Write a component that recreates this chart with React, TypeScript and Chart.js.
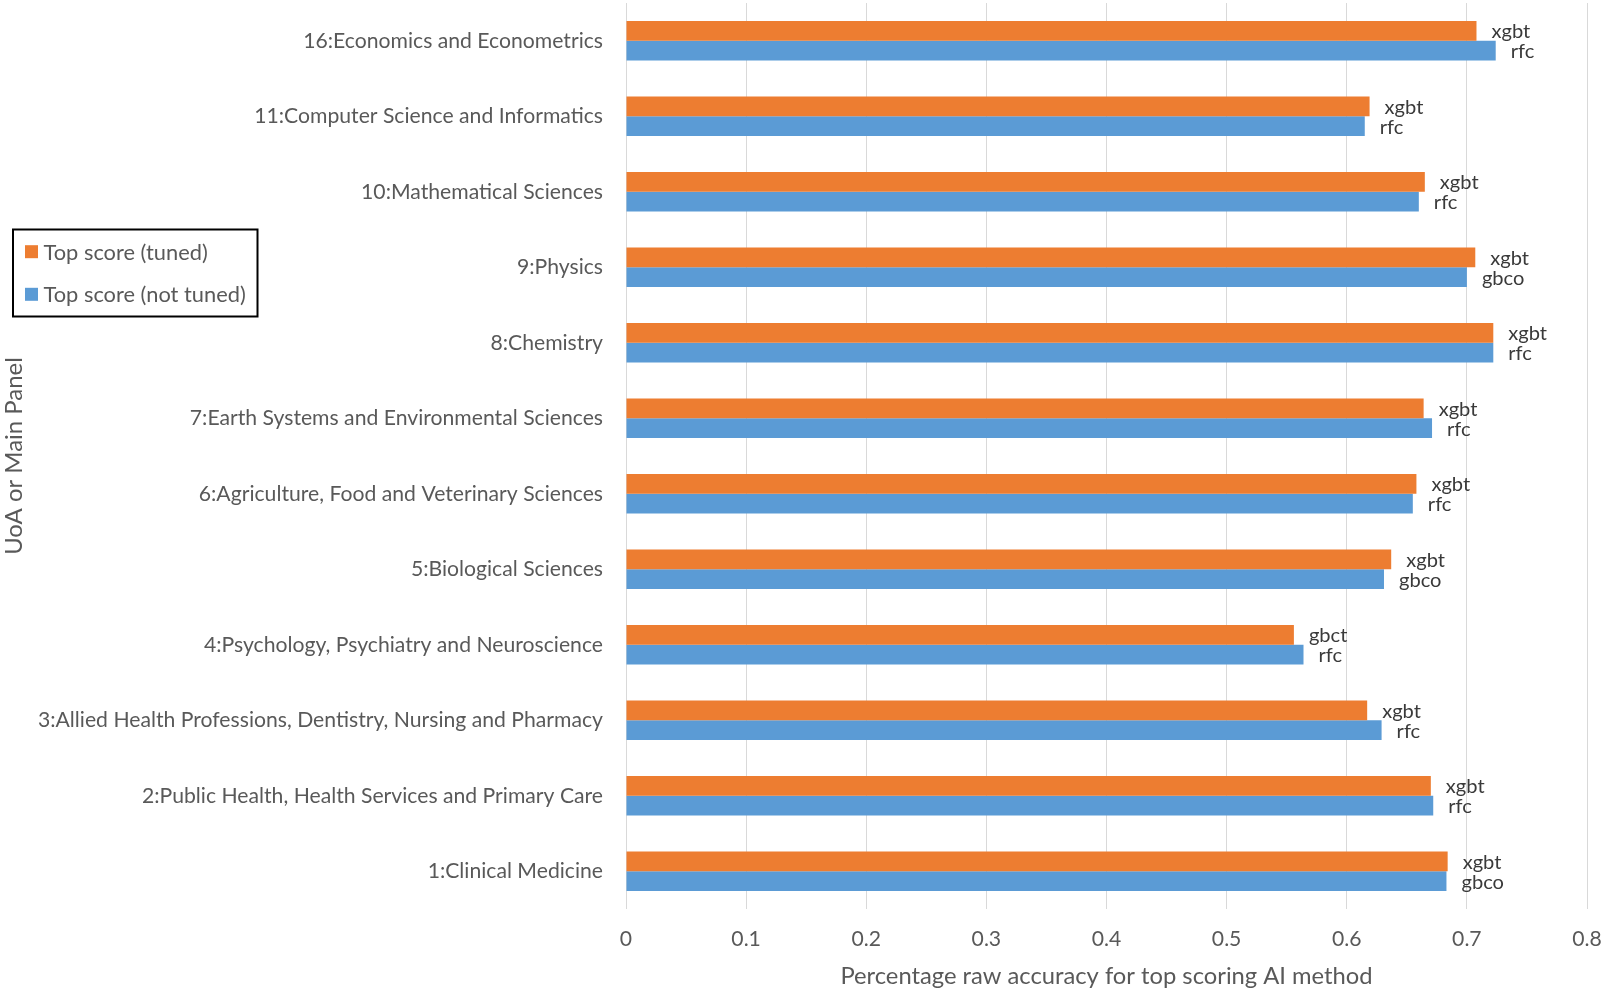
import React, { useEffect, useRef } from 'react';
import { Chart, registerables } from 'chart.js';

Chart.register(...registerables);

const categories = [
  '16:Economics and Econometrics',
  '11:Computer Science and Informatics',
  '10:Mathematical Sciences',
  '9:Physics',
  '8:Chemistry',
  '7:Earth Systems and Environmental Sciences',
  '6:Agriculture, Food and Veterinary Sciences',
  '5:Biological Sciences',
  '4:Psychology, Psychiatry and Neuroscience',
  '3:Allied Health Professions, Dentistry, Nursing and Pharmacy',
  '2:Public Health, Health Services and Primary Care',
  '1:Clinical Medicine',
];

const tunedScores = [0.708, 0.619, 0.665, 0.707, 0.722, 0.664, 0.658, 0.637, 0.556, 0.617, 0.670, 0.684];
const notTunedScores = [0.724, 0.615, 0.660, 0.700, 0.722, 0.671, 0.655, 0.631, 0.564, 0.629, 0.672, 0.683];

const tunedMethods = ['xgbt', 'xgbt', 'xgbt', 'xgbt', 'xgbt', 'xgbt', 'xgbt', 'xgbt', 'gbct', 'xgbt', 'xgbt', 'xgbt'];
const notTunedMethods = ['rfc', 'rfc', 'rfc', 'gbco', 'rfc', 'rfc', 'rfc', 'gbco', 'rfc', 'rfc', 'rfc', 'gbco'];

const seriesNames = ['Top score (tuned)', 'Top score (not tuned)'];
const xTicks = [0, 0.1, 0.2, 0.3, 0.4, 0.5, 0.6, 0.7, 0.8];

const xTitle = 'Percentage raw accuracy for top scoring AI method';
const yTitle = 'UoA or Main Panel';

const ORANGE = '#ED7D31';
const BLUE = '#5B9BD5';
const TEXT = '#595959';
const LABEL = '#3a3a3a';
const FONT = 'Lato';

function fontFactor(): number {
  const c = document.createElement('canvas').getContext('2d');
  if (!c) return 1;
  c.font = `23px ${FONT}`;
  const w = c.measureText(categories[0]).width;
  return w > 0 ? 300 / w : 1;
}

export default function App() {
  const ref = useRef<HTMLCanvasElement | null>(null);

  useEffect(() => {
    if (!ref.current) return;
    const k = fontFactor();
    const fs = (n: number) => n * k;
    const methods = [tunedMethods, notTunedMethods];

    const labelPlugin = {
      id: 'methodLabels',
      afterDatasetsDraw(chart: any) {
        const ctx = chart.ctx;
        ctx.save();
        ctx.font = `${fs(21.8)}px ${FONT}`;
        ctx.fillStyle = LABEL;
        ctx.textAlign = 'left';
        ctx.textBaseline = 'middle';
        chart.data.datasets.forEach((_: any, di: number) => {
          const meta = chart.getDatasetMeta(di);
          meta.data.forEach((el: any, i: number) => {
            ctx.fillText(methods[di][i], el.x + 15, el.y + 1);
          });
        });
        ctx.restore();
      },
    };

    const legendPlugin = {
      id: 'boxLegend',
      afterDraw(chart: any) {
        const ctx = chart.ctx;
        ctx.save();
        ctx.strokeStyle = '#000000';
        ctx.lineWidth = 2;
        ctx.strokeRect(13, 229.5, 244.5, 87);
        const ys = [251.7, 294.3];
        chart.data.datasets.forEach((ds: any, i: number) => {
          ctx.fillStyle = ds.backgroundColor;
          ctx.fillRect(25, ys[i] - 6.5, 13, 13);
          ctx.fillStyle = TEXT;
          ctx.font = `${fs(23.7)}px ${FONT}`;
          ctx.textAlign = 'left';
          ctx.textBaseline = 'middle';
          ctx.fillText(ds.label, 43.5, ys[i] + 1);
        });
        ctx.restore();
      },
    };

    const chart = new Chart(ref.current, {
      type: 'bar',
      data: {
        labels: categories,
        datasets: [
          { label: seriesNames[0], data: tunedScores, backgroundColor: ORANGE, borderWidth: 0 },
          { label: seriesNames[1], data: notTunedScores, backgroundColor: BLUE, borderWidth: 0 },
        ],
      },
      options: {
        indexAxis: 'y',
        animation: false,
        responsive: true,
        maintainAspectRatio: false,
        datasets: { bar: { categoryPercentage: 0.52, barPercentage: 1.0 } },
        layout: { padding: { top: 3, right: 16, bottom: 0, left: 0 } },
        plugins: {
          legend: { display: false },
          tooltip: { enabled: false },
        },
        scales: {
          x: {
            type: 'linear',
            min: 0,
            max: 0.8,
            afterBuildTicks: (s: any) => {
              s.ticks = xTicks.map((v) => ({ value: v }));
            },
            afterFit: (s: any) => {
              s.height = 85;
              s.paddingLeft = 0;
              s.paddingRight = 0;
            },
            grid: { color: '#D9D9D9', lineWidth: 1, drawTicks: false },
            border: { display: false },
            ticks: {
              color: TEXT,
              font: { family: FONT, size: fs(23) },
              padding: 17,
              callback: (v: any) => String(v),
            },
            title: {
              display: true,
              text: xTitle,
              color: TEXT,
              font: { family: FONT, size: fs(25.8) },
              padding: { top: 0, bottom: 3 },
            },
          },
          y: {
            type: 'category',
            afterFit: (s: any) => {
              s.width = 626;
              s.paddingTop = 0;
              s.paddingBottom = 0;
            },
            grid: { display: false, drawTicks: false },
            border: { display: false },
            ticks: {
              color: TEXT,
              font: { family: FONT, size: fs(23) },
              padding: 23,
              autoSkip: false,
            },
            title: {
              display: true,
              text: yTitle,
              color: TEXT,
              font: { family: FONT, size: fs(26) },
              padding: { top: 0, bottom: 0 },
            },
          },
        },
      },
      plugins: [labelPlugin, legendPlugin],
    } as any);

    return () => chart.destroy();
  }, []);

  return (
    <div style={{ position: 'fixed', left: 0, top: 0, width: 1603, height: 994, background: '#ffffff' }}>
      <canvas ref={ref} />
    </div>
  );
}
